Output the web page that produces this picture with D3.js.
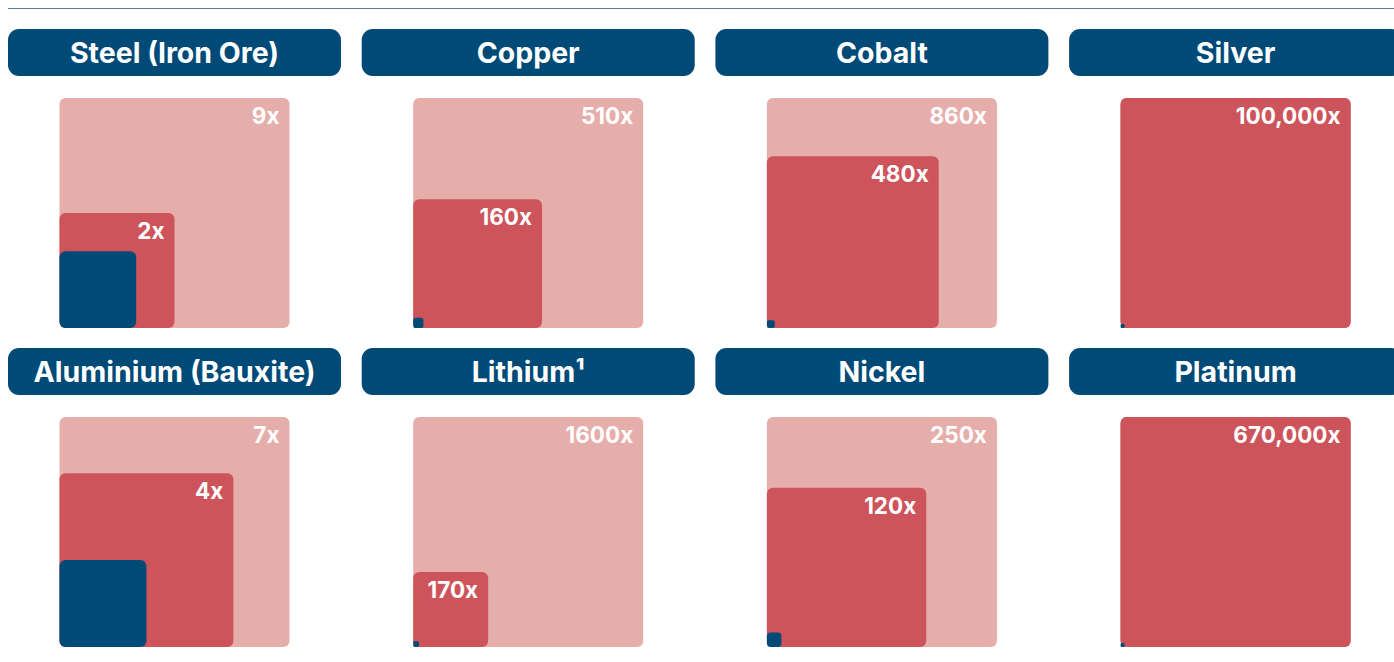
<!DOCTYPE html>
<html>
<head>
<meta charset="utf-8">
<script src="https://cdn.jsdelivr.net/npm/d3@7"></script>
<style>
  html, body { margin: 0; padding: 0; background: #fff; }
  svg { display: block; font-family: Inter, "Noto Sans", sans-serif; }
</style>
</head>
<body>
<svg id="chart" width="1394" height="662"></svg>
<script>
// minerals, row by row
var minerals = ['Steel (Iron Ore)', 'Copper', 'Cobalt', 'Silver',
                'Aluminium (Bauxite)', 'Lithium\u00b9', 'Nickel', 'Platinum'];
// big (light) square multiple
var outerValues = [9, 510, 860, 100000, 7, 1600, 250, 670000];
var outerLabels = ['9x', '510x', '860x', '100,000x', '7x', '1600x', '250x', '670,000x'];
// middle (red) square multiple
var innerValues = [2.25, 160, 480, 100000, 4, 170, 120, 670000];
var innerLabels = ['2x', '160x', '480x', '100,000x', '4x', '170x', '120x', '670,000x'];
// base unit (dark square)
var baseValue = 1;

var colors = {pill: '#004a77', outer: '#e6aeaa', inner: '#cd545b', base: '#004a77', rule: '#5b7d98'};

var svg = d3.select('#chart');

svg.append('line')
    .attr('x1', 8).attr('x2', 1394)
    .attr('y1', 8.5).attr('y2', 8.5)
    .attr('stroke', colors.rule)
    .attr('stroke-width', 1);

var colX = d3.scaleLinear().domain([0, 1]).range([8, 361.7]);
var rowY = d3.scaleLinear().domain([0, 1]).range([29, 348]);
var pillW = 333, pillH = 47, side = 230;

minerals.forEach(function (name, i) {
    var col = i % 4, row = Math.floor(i / 4);
    var g = svg.append('g')
        .attr('transform', 'translate(' + colX(col) + ',' + rowY(row) + ')');

    g.append('rect')
        .attr('width', pillW).attr('height', pillH)
        .attr('rx', 11)
        .attr('fill', colors.pill);
    g.append('text')
        .attr('x', pillW / 2).attr('y', pillH / 2)
        .attr('dy', '0.36em')
        .attr('text-anchor', 'middle')
        .attr('fill', '#fff')
        .attr('font-size', 28.5)
        .attr('font-weight', 700)
        .text(name);

    // squares sized by area
    var size = d3.scaleSqrt().domain([0, outerValues[i]]).range([0, side]);
    var x0 = (pillW - side) / 2, bottom = 69 + side;
    var nested = innerValues[i] < outerValues[i];

    var squares = [
        {v: outerValues[i], label: nested ? outerLabels[i] : null, fill: nested ? colors.outer : colors.inner},
        {v: innerValues[i], label: innerLabels[i], fill: colors.inner},
        {v: baseValue, label: null, fill: colors.base, min: 4}
    ];

    squares.forEach(function (s) {
        var s2 = Math.max(size(s.v), s.min || 0);
        var r = Math.min(6, s2 / 4);
        g.append('rect')
            .attr('x', x0).attr('y', bottom - s2)
            .attr('width', s2).attr('height', s2)
            .attr('rx', r)
            .attr('fill', s.fill);
        if (s.label) {
            g.append('text')
                .attr('x', x0 + s2 - 10)
                .attr('y', bottom - s2 + 26)
                .attr('text-anchor', 'end')
                .attr('fill', '#fff')
                .attr('font-size', 22.5)
                .attr('font-weight', 700)
                .text(s.label);
        }
    });
});
</script>
</body>
</html>
